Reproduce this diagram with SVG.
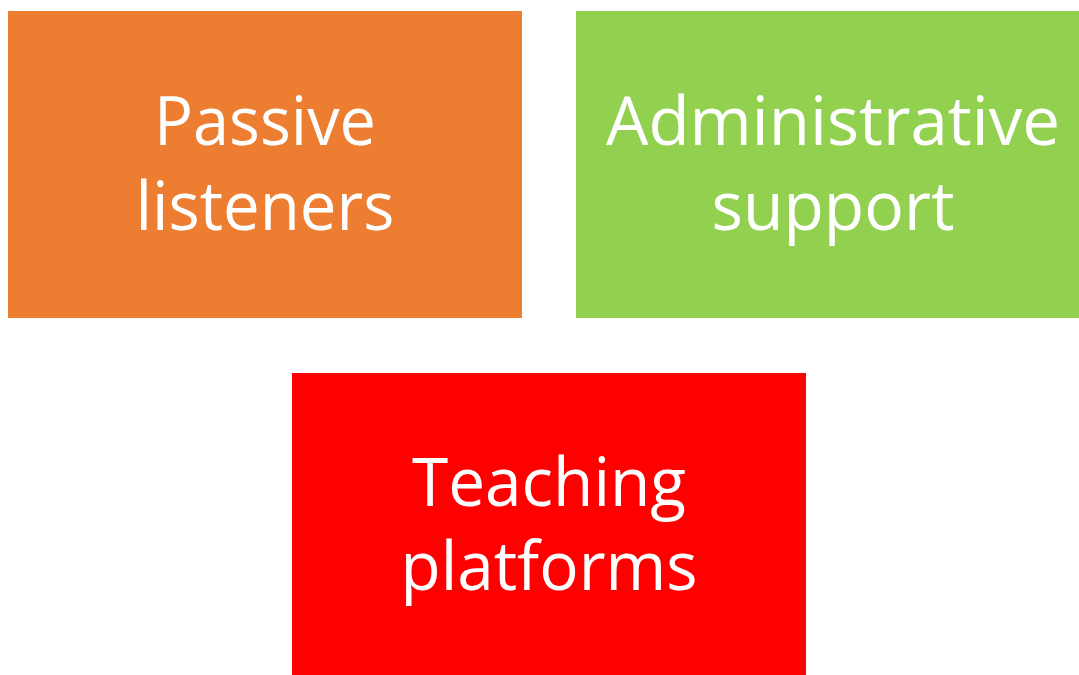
<svg xmlns="http://www.w3.org/2000/svg" width="1079" height="675" viewBox="0 0 1079 675">
<style>
.t{font-family:"Open Sans","Liberation Sans",sans-serif;font-size:68px;fill:#fff;text-anchor:middle}
</style>
<rect width="1079" height="675" fill="#fff"/>
<g id="passive">
<rect x="8" y="11" width="514" height="307" fill="#ED7D31"/>
<text class="t" x="265" y="145" textLength="222" lengthAdjust="spacingAndGlyphs">Passive</text>
<text class="t" x="265" y="230" textLength="259" lengthAdjust="spacingAndGlyphs">listeners</text>
</g>
<g id="admin">
<rect x="576" y="11" width="503" height="307" fill="#92D050"/>
<text class="t" x="833" y="145" textLength="454" lengthAdjust="spacingAndGlyphs">Administrative</text>
<text class="t" x="833" y="230" textLength="243" lengthAdjust="spacingAndGlyphs">support</text>
</g>
<g id="teaching">
<rect x="292" y="373" width="514" height="302" fill="#FF0000"/>
<text class="t" x="549" y="506" textLength="274" lengthAdjust="spacingAndGlyphs">Teaching</text>
<text class="t" x="549" y="590" textLength="297" lengthAdjust="spacingAndGlyphs">platforms</text>
</g>
<g id="connectors"/>
</svg>
